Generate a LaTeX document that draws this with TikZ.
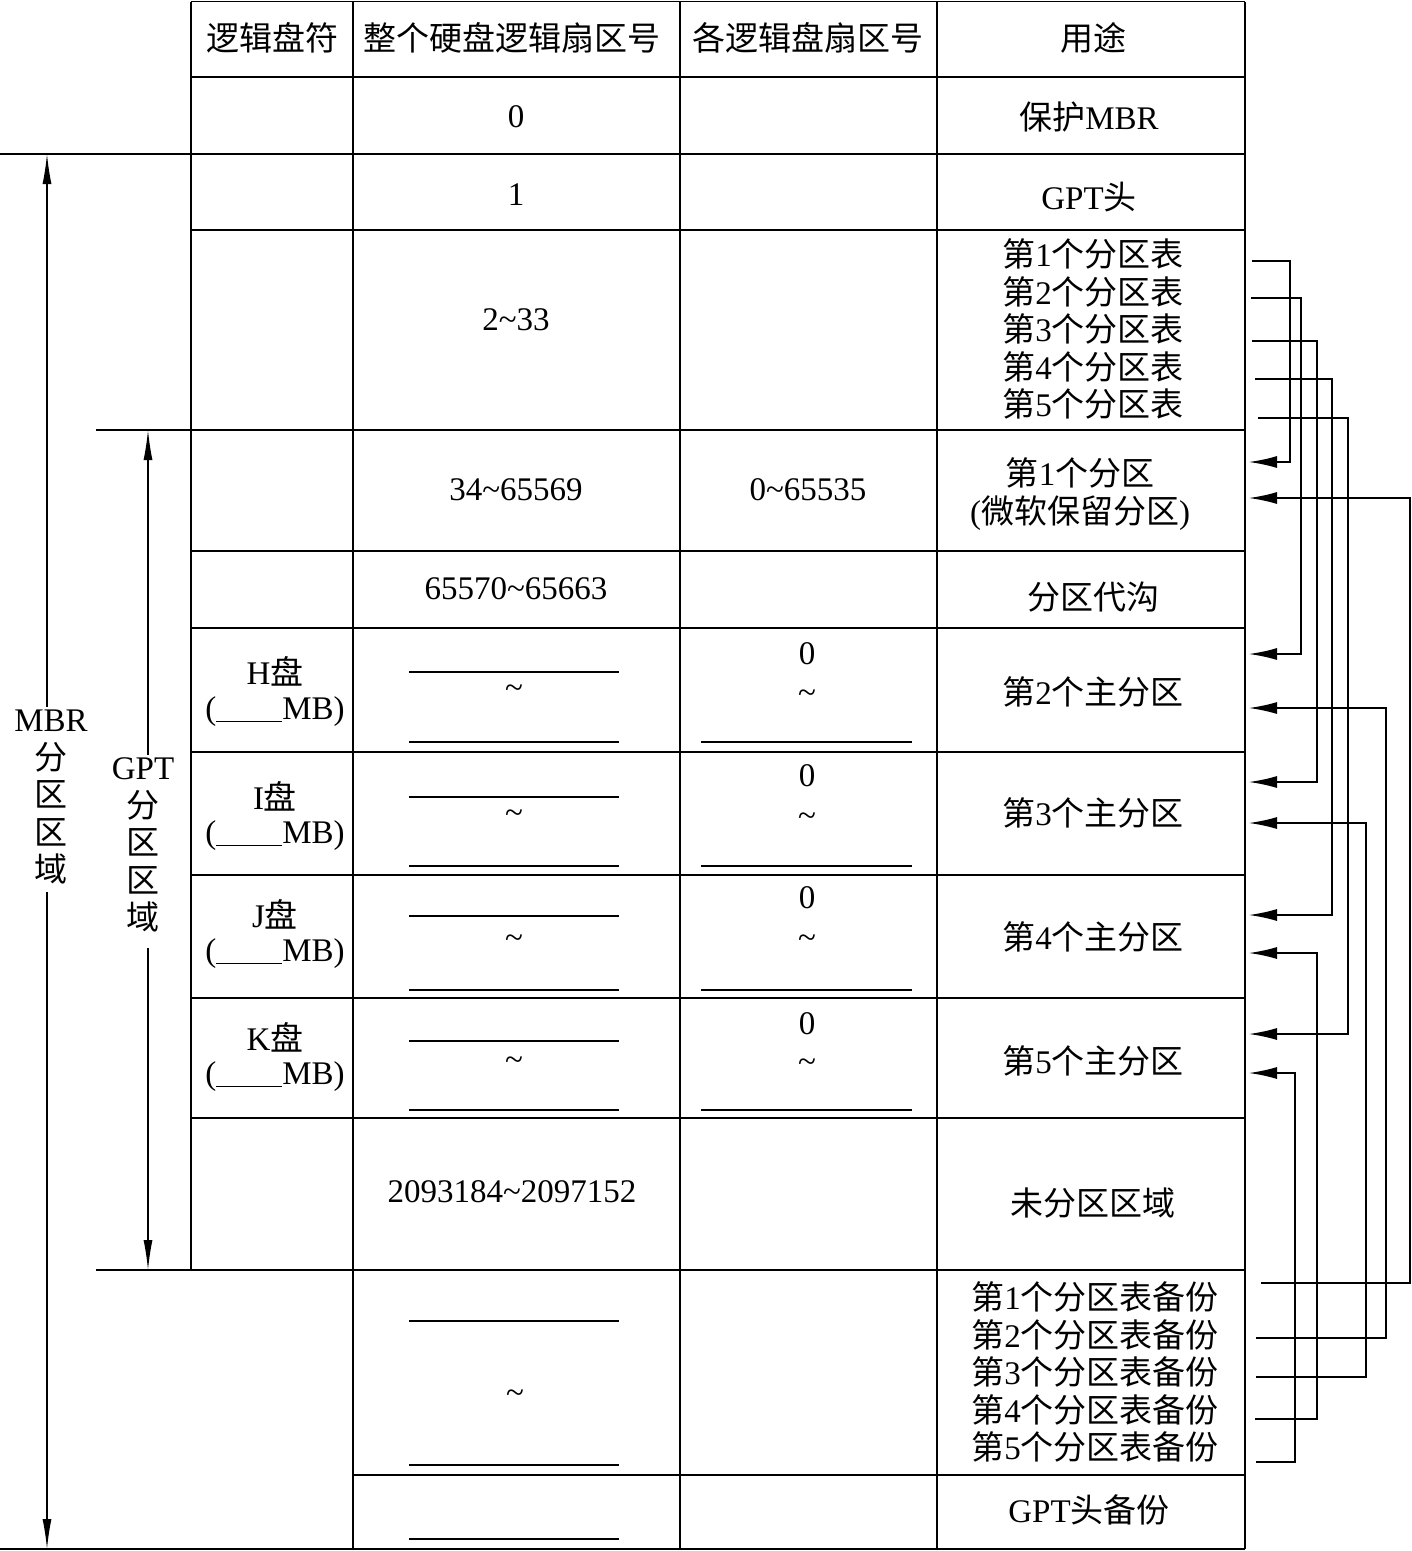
\documentclass[tikz,border=0pt]{standalone}
\usepackage{fontspec}
\setmainfont{Liberation Serif}
\newfontfamily\cjk{Noto Sans CJK SC}
\usetikzlibrary{arrows.meta}
\newcommand\zh[1]{{\cjk #1}}
\newcommand\tld{\textasciitilde}
\newcommand\blank{\rule[-2pt]{66pt}{1.3pt}}
\begin{document}
\begin{tikzpicture}[x=1pt,y=-1pt,
  tline/.style={line width=1.8pt},
  thin/.style={line width=1.3pt},
  fill/.style={line width=1.5pt},
  conn/.style={line width=1.6pt,-{Latex[length=28pt,width=12pt]}},
  larrow/.style={line width=1.3pt,-{Latex[length=30pt,width=9pt]}},
  txt/.style={inner sep=0pt,align=center,font=\fontsize{33}{37.5}\selectfont}]
\useasboundingbox (0,0) rectangle (1412,1551);
% ---- table grid
\foreach \y in {1.5,77,230,551,628,752,875,998,1118}
  \draw[tline] (191,\y) -- (1245,\y);
\draw[tline] (191,154) -- (1245,154);
\draw[thin] (0,154) -- (191,154);
\draw[tline] (191,430) -- (1245,430);
\draw[thin] (96,430) -- (191,430);
\draw[tline] (191,1270) -- (1245,1270);
\draw[thin] (96,1270) -- (191,1270);
\draw[tline] (353,1475) -- (1245,1475);
\draw[tline] (353,1549) -- (1245,1549);
\draw[thin] (0,1549) -- (353,1549);
\draw[tline] (191,1.5) -- (191,1270);
\foreach \x in {353,680,937,1245}
  \draw[tline] (\x,1.5) -- (\x,1549);
% ---- header
\node[txt] (h1) at (272,38) {\zh{逻辑盘符}};
\node[txt] (h2) at (512,38) {\zh{整个硬盘逻辑扇区号}};
\node[txt] (h3) at (808,38) {\zh{各逻辑盘扇区号}};
\node[txt] (h4) at (1093,38) {\zh{用途}};
% ---- rows
\node[txt] (r0a) at (516,117) {0};
\node[txt] (r0b) at (1089,117) {\zh{保护}MBR};
\node[txt] (r1a) at (516,195) {1};
\node[txt] (r1b) at (1089,197) {GPT\zh{头}};
\node[txt] (r2a) at (516,320) {2\tld33};
\node[txt] (r2b) at (1093,329) {\zh{第}1\zh{个分区表}\\\zh{第}2\zh{个分区表}\\\zh{第}3\zh{个分区表}\\\zh{第}4\zh{个分区表}\\\zh{第}5\zh{个分区表}};
\node[txt] (r3a) at (516,490) {34\tld65569};
\node[txt] (r3b) at (808,490) {0\tld65535};
\node[txt] (r3c) at (1080,494) {\zh{第}1\zh{个分区}\\(\zh{微软保留分区})};
\node[txt] (r4a) at (516,589) {65570\tld65663};
\node[txt] (r4b) at (1093,597) {\zh{分区代沟}};
% H
\node[txt] (hd1) at (275,671) {H\zh{盘}};
\node[txt] (hd2) at (275,712) {(\blank MB)};
\draw[fill] (409,672) -- (619,672);
\draw[fill] (409,742) -- (619,742);
\node[txt] (hd3) at (514,692) {\tld};
\node[txt] (hd4) at (807,654) {0};
\node[txt] (hd5) at (807,697) {\tld};
\draw[fill] (701,742) -- (912,742);
\node[txt] (hd6) at (1093,692) {\zh{第}2\zh{个主分区}};
% I
\node[txt] (id1) at (275,796) {I\zh{盘}};
\node[txt] (id2) at (275,836) {(\blank MB)};
\draw[fill] (409,797) -- (619,797);
\draw[fill] (409,866) -- (619,866);
\node[txt] (id3) at (514,817) {\tld};
\node[txt] (id4) at (807,776) {0};
\node[txt] (id5) at (807,820) {\tld};
\draw[fill] (701,866) -- (912,866);
\node[txt] (id6) at (1093,813) {\zh{第}3\zh{个主分区}};
% J
\node[txt] (jd1) at (275,914) {J\zh{盘}};
\node[txt] (jd2) at (275,954) {(\blank MB)};
\draw[fill] (409,916) -- (619,916);
\draw[fill] (409,990) -- (619,990);
\node[txt] (jd3) at (514,942) {\tld};
\node[txt] (jd4) at (807,898) {0};
\node[txt] (jd5) at (807,942) {\tld};
\draw[fill] (701,990) -- (912,990);
\node[txt] (jd6) at (1093,937) {\zh{第}4\zh{个主分区}};
% K
\node[txt] (kd1) at (275,1037) {K\zh{盘}};
\node[txt] (kd2) at (275,1077) {(\blank MB)};
\draw[fill] (409,1041) -- (619,1041);
\draw[fill] (409,1110) -- (619,1110);
\node[txt] (kd3) at (514,1064) {\tld};
\node[txt] (kd4) at (807,1024) {0};
\node[txt] (kd5) at (807,1066) {\tld};
\draw[fill] (701,1110) -- (912,1110);
\node[txt] (kd6) at (1093,1061) {\zh{第}5\zh{个主分区}};
% unpartitioned
\node[txt] (un1) at (512,1192) {2093184\tld2097152};
\node[txt] (un2) at (1093,1203) {\zh{未分区区域}};
% backups
\draw[fill] (409,1321) -- (619,1321);
\draw[fill] (409,1465) -- (619,1465);
\node[txt] (bk1) at (515,1397) {\tld};
\node[txt] (bk2) at (1095,1372) {\zh{第}1\zh{个分区表备份}\\\zh{第}2\zh{个分区表备份}\\\zh{第}3\zh{个分区表备份}\\\zh{第}4\zh{个分区表备份}\\\zh{第}5\zh{个分区表备份}};
\draw[fill] (409,1539) -- (619,1539);
\node[txt] (gb) at (1089,1510) {GPT\zh{头备份}};
% ---- left labels and arrows
\node[txt] (mbr) at (51,797) {MBR\\\zh{分}\\\zh{区}\\\zh{区}\\\zh{域}};
\node[txt] (gpt) at (143,845) {GPT\\\zh{分}\\\zh{区}\\\zh{区}\\\zh{域}};
\coordinate (mtop) at (47,154);
\coordinate (mbot) at (47,1549);
\coordinate (gtop) at (148,430);
\coordinate (gbot) at (148,1270);
\draw[larrow] (mtop |- mbr.north) ++(0,-3) -- (mtop);
\draw[larrow] (mbot |- mbr.south) ++(0,8) -- (mbot);
\draw[larrow] (gtop |- gpt.north) ++(0,-3) -- (gtop);
\draw[larrow] (gbot |- gpt.south) ++(0,16) -- (gbot);
% ---- connectors: partition tables -> partitions
\coordinate (t1) at (1252,261);
\coordinate (t2) at (1251,298);
\coordinate (t3) at (1252,341);
\coordinate (t4) at (1255,379);
\coordinate (t5) at (1258,418);
\coordinate (p1a) at (1249,462);
\coordinate (p2a) at (1249,654);
\coordinate (p3a) at (1249,782);
\coordinate (p4a) at (1249,915);
\coordinate (p5a) at (1249,1034);
\draw[conn] (t1) -- (1290,261) |- (p1a);
\draw[conn] (t2) -- (1301,298) |- (p2a);
\draw[conn] (t3) -- (1317,341) |- (p3a);
\draw[conn] (t4) -- (1332,379) |- (p4a);
\draw[conn] (t5) -- (1348,418) |- (p5a);
% ---- connectors: backups -> partitions
\coordinate (b1) at (1261,1283);
\coordinate (b2) at (1256,1338);
\coordinate (b3) at (1256,1377);
\coordinate (b4) at (1255,1419);
\coordinate (b5) at (1256,1462);
\coordinate (p1b) at (1249,498);
\coordinate (p2b) at (1249,708);
\coordinate (p3b) at (1249,823);
\coordinate (p4b) at (1249,953);
\coordinate (p5b) at (1249,1073);
\draw[conn] (b1) -- (1410,1283) |- (p1b);
\draw[conn] (b2) -- (1386,1338) |- (p2b);
\draw[conn] (b3) -- (1366,1377) |- (p3b);
\draw[conn] (b4) -- (1317,1419) |- (p4b);
\draw[conn] (b5) -- (1295,1462) |- (p5b);
\end{tikzpicture}
\end{document}
